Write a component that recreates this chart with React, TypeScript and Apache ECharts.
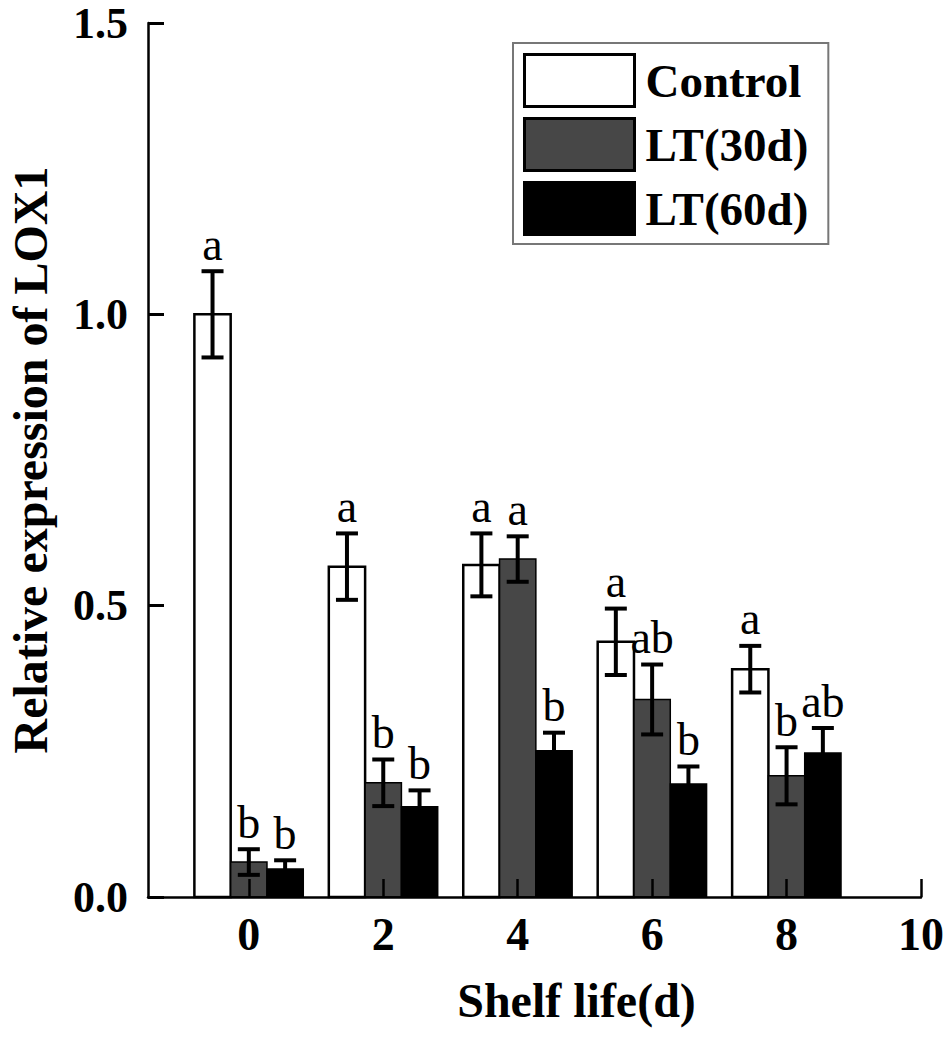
import React, { useEffect, useRef } from "react";
import * as echarts from "echarts";

const days = [0, 2, 4, 6, 8];
const seriesNames = ["Control", "LT(30d)", "LT(60d)"];
const controlMean = [1.0, 0.567, 0.57, 0.438, 0.391];
const controlErr = [0.074, 0.057, 0.054, 0.057, 0.04];
const controlLetters = ["a", "a", "a", "a", "a"];
const lt30Mean = [0.06, 0.196, 0.58, 0.339, 0.208];
const lt30Err = [0.022, 0.04, 0.039, 0.06, 0.049];
const lt30Letters = ["b", "b", "a", "ab", "b"];
const lt60Mean = [0.048, 0.155, 0.251, 0.194, 0.247];
const lt60Err = [0.015, 0.028, 0.031, 0.03, 0.043];
const lt60Letters = ["b", "b", "b", "b", "ab"];
const xTickValues = [0, 2, 4, 6, 8, 10];

const FONT = "'Times New Roman', 'Liberation Serif', serif";
const BAR_W = 0.54;
const fills = ["#ffffff", "#474747", "#000000"];
const borderWidths = [2.5, 1.5, 1.5];

function makeRender(idx: number, errs: number[], letters: string[]) {
  return (params: any, api: any) => {
    const off = (idx - 1) * BAR_W;
    const x = api.value(0) + off;
    const v = api.value(1);
    const e = errs[params.dataIndex];
    const tl = api.coord([x - BAR_W / 2, v]);
    const br = api.coord([x + BAR_W / 2, 0]);
    const top = api.coord([x, v + e]);
    const bot = api.coord([x, v - e]);
    const cap = 11;
    const lineStyle = { stroke: "#000", lineWidth: 4 };
    return {
      type: "group",
      children: [
        {
          type: "rect",
          shape: { x: tl[0], y: tl[1], width: br[0] - tl[0], height: br[1] - tl[1] },
          style: { fill: fills[idx], stroke: "#000", lineWidth: borderWidths[idx] },
        },
        { type: "line", shape: { x1: top[0], y1: top[1], x2: bot[0], y2: bot[1] }, style: lineStyle },
        { type: "line", shape: { x1: top[0] - cap, y1: top[1], x2: top[0] + cap, y2: top[1] }, style: lineStyle },
        { type: "line", shape: { x1: bot[0] - cap, y1: bot[1], x2: bot[0] + cap, y2: bot[1] }, style: lineStyle },
        {
          type: "text",
          x: top[0],
          y: top[1] - 27,
          style: {
            text: letters[params.dataIndex],
            fill: "#000",
            font: `normal 46px ${FONT}`,
            align: "center",
            verticalAlign: "middle",
          },
        },
      ],
    };
  };
}

const means = [controlMean, lt30Mean, lt60Mean];
const errs = [controlErr, lt30Err, lt60Err];
const letters = [controlLetters, lt30Letters, lt60Letters];

export default function App() {
  const ref = useRef<HTMLDivElement>(null);
  useEffect(() => {
    const chart = echarts.init(ref.current!, undefined, { renderer: "svg" });
    const option: any = {
      animation: false,
      backgroundColor: "#ffffff",
      textStyle: { fontFamily: FONT },
      grid: { left: 148, top: 23, width: 773, height: 874, containLabel: false, outerBoundsMode: "none" },
      legend: {
        orient: "vertical",
        left: 513,
        top: 43,
        padding: [10, 20, 8, 10],
        itemWidth: 110,
        itemHeight: 52,
        itemGap: 9,
        borderColor: "#777",
        borderWidth: 2,
        textStyle: { fontFamily: FONT, fontSize: 47, fontWeight: "bold", color: "#000", padding: [0, 0, 0, 6] },
        data: seriesNames.map((n, i) => ({
          name: n,
          icon: "rect",
          itemStyle: { color: fills[i], borderColor: "#000", borderWidth: 3 },
        })),
      },
      xAxis: {
        type: "value",
        min: -1.5,
        max: 10,
        z: 10,
        name: "Shelf life(d)",
        nameLocation: "middle",
        nameGap: 79,
        nameTextStyle: { fontFamily: FONT, fontSize: 48, fontWeight: "bold", color: "#000", padding: [0, 0, 0, 84] },
        axisLine: { show: true, onZero: false, lineStyle: { color: "#000", width: 2.5 } },
        axisTick: { show: true, inside: true, length: 18, customValues: xTickValues, lineStyle: { color: "#000", width: 2.5 } },
        axisLabel: {
          customValues: xTickValues,
          fontFamily: FONT,
          fontSize: 46,
          fontWeight: "bold",
          color: "#000",
          margin: 14,
        },
        splitLine: { show: false },
      },
      yAxis: {
        type: "value",
        min: 0,
        max: 1.5,
        interval: 0.5,
        z: 10,
        name: "Relative expression of LOX1",
        nameLocation: "middle",
        nameRotate: 90,
        nameGap: 94,
        nameTextStyle: { fontFamily: FONT, fontSize: 48, fontWeight: "bold", color: "#000" },
        axisLine: { show: true, onZero: false, lineStyle: { color: "#000", width: 2.5 } },
        axisTick: { show: true, inside: true, length: 16, lineStyle: { color: "#000", width: 3 } },
        axisLabel: {
          fontFamily: FONT,
          fontSize: 44,
          fontWeight: "bold",
          color: "#000",
          margin: 20,
          formatter: (v: number) => v.toFixed(1),
        },
        splitLine: { show: false },
      },
      series: seriesNames.map((n, i) => ({
        name: n,
        type: "custom",
        itemStyle: { color: fills[i], borderColor: "#000" },
        renderItem: makeRender(i, errs[i], letters[i]),
        encode: { x: 0, y: 1 },
        data: days.map((d, k) => [d, means[i][k]]),
        z: 2 + i,
      })),
    };
    chart.setOption(option);
    return () => chart.dispose();
  }, []);
  return (
    <div
      ref={ref}
      style={{ position: "fixed", left: 0, top: 0, width: 950, height: 1037, background: "#fff" }}
    />
  );
}
